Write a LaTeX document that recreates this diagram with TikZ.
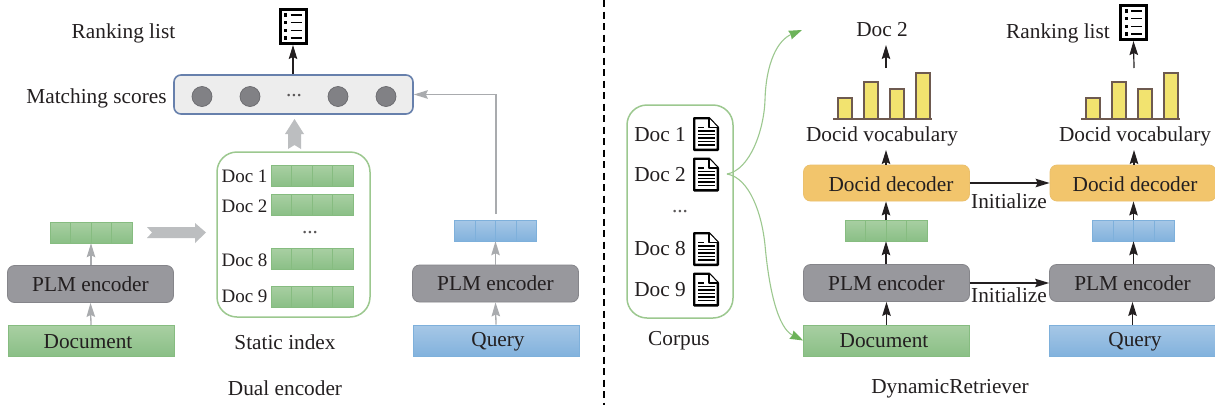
\documentclass[tikz,border=0pt]{standalone}
\usepackage{fontspec}
\setmainfont{Liberation Serif}
\usetikzlibrary{arrows.meta,calc}
\definecolor{txt}{HTML}{231F20}
\definecolor{grnT}{HTML}{A8CFA2}
\definecolor{grnB}{HTML}{8ABF86}
\definecolor{grnE}{HTML}{86BC80}
\definecolor{bluT}{HTML}{A6C7E6}
\definecolor{bluB}{HTML}{82B2DD}
\definecolor{bluE}{HTML}{7EB0DB}
\definecolor{plm}{HTML}{98989D}
\definecolor{plmE}{HTML}{85858A}
\definecolor{dec}{HTML}{F2C56C}
\definecolor{decE}{HTML}{EBC06C}
\definecolor{arrg}{HTML}{A9ABAE}
\definecolor{blk}{HTML}{BCBEC0}
\definecolor{crv}{HTML}{9CC88F}
\definecolor{crvH}{HTML}{6DB35A}
\definecolor{bar}{HTML}{F2E36F}
\definecolor{barE}{HTML}{6E5A50}
\definecolor{frameB}{HTML}{6780AC}
\tikzset{
  lbl/.style={inner sep=0pt,text=txt,font=\fontsize{21.3}{23}\selectfont},
  smalllbl/.style={inner sep=0pt,text=txt,font=\fontsize{19}{21}\selectfont},
  box/.style={rectangle,inner sep=0pt,anchor=center,text=txt,font=\fontsize{21.3}{23}\selectfont},
  grnbox/.style={box,draw=grnE,line width=.6pt,top color=grnT,bottom color=grnB,minimum width=166pt,minimum height=31pt},
  blubox/.style={box,draw=bluE,line width=.6pt,top color=bluT,bottom color=bluB,minimum width=166pt,minimum height=31pt},
  plmbox/.style={box,draw=plmE,line width=.8pt,fill=plm,rounded corners=7pt,minimum width=166pt,minimum height=37pt},
  decbox/.style={box,draw=decE,line width=.8pt,fill=dec,rounded corners=7pt,minimum width=166pt,minimum height=36pt},
  greenframe/.style={rectangle,draw=crv,line width=1.5pt,rounded corners=20pt,fill=white,inner sep=0pt},
  circ/.style={circle,draw=plmE!80!black,line width=.7pt,fill=plm!85!black,minimum size=20pt,inner sep=0pt},
  garrow/.style={draw=arrg,line width=1.3pt,-{Stealth[length=14pt,width=8.5pt,inset=2pt]}},
  karrow/.style={draw=txt,line width=1.2pt,-{Stealth[length=14pt,width=8.5pt,inset=2pt]}},
  curve/.style={draw=crv,line width=1.1pt},
}
% vector: name, centre, top colour, bottom colour, edge colour
\newcommand\vecbar[5]{%
  \node[rectangle,inner sep=0pt,minimum width=82pt,minimum height=21pt,top color=#3,bottom color=#4,draw=#5,line width=.5pt] (#1) at (#2) {};
  \foreach \k in {-20.5,0,20.5}{\draw[#5,line width=.6pt] ($(#1.center)+(\k,-10.5)$) -- ($(#1.center)+(\k,10.5)$);}
}
% ranking-list icon: name, centre
\newcommand\ranklist[2]{%
  \node[rectangle,inner sep=0pt,minimum width=26pt,minimum height=34pt,draw=black,line width=3pt,fill=white] (#1) at (#2) {};
  \foreach \yy in {-11.5,-4,4,11.5}{
    \fill[black] ($(#1.center)+(-9,\yy-1.7)$) rectangle ++(3.4,3.4);
    \draw[black,line width=1.5pt] ($(#1.center)+(-2.5,\yy)$) -- ++(11,0);
  }
}
% document icon: name, centre
\newcommand\docicon[2]{%
  \node[inner sep=0pt,minimum width=26pt,minimum height=34pt] (#1) at (#2) {};
  \begin{scope}[shift={(#1.center)}]
    \draw[black,line width=2.4pt,line join=round,fill=white] (-11.8,-15.8) -- (3,-15.8) -- (11.8,-6.5) -- (11.8,15.8) -- (-11.8,15.8) -- cycle;
    \draw[black,line width=1.2pt,fill=white,line join=round] (3,-15.8) -- (3,-6.5) -- (11.8,-6.5);
    \draw[black,line width=1.4pt] (-8,-6.5) -- (-2.5,-6.5);
    \foreach \yy in {-3,0.5,4,7.5,11}{\draw[black,line width=1.6pt] (-8,\yy) -- (8.5,\yy);}
  \end{scope}
}
% bar chart: name, baseline-left x
\newcommand\barchart[2]{%
  \coordinate (#1) at (#2,119);
  \begin{scope}[shift={(#1)}]
    \foreach \xa/\tp in {5/-21,31/-37,57/-30,83/-46}{
      \draw[barE,line width=1.6pt,fill=bar] (\xa,0) rectangle ++(14,\tp);
    }
    \draw[barE,line width=1.2pt] (0,0) -- (99,0);
  \end{scope}
}
\begin{document}
\begin{tikzpicture}[x=1pt,y=-1pt]
\useasboundingbox (0,0) rectangle (1215,405);
\fill[white] (0,0) rectangle (1215,405);

% ---- divider
\coordinate (divT) at (604,0);
\coordinate (divB) at (604,405);
\draw[black,line width=1.8pt,dash pattern=on 7pt off 4.5pt] (divT) -- (divB);

% ---- LEFT PANEL
\node[lbl] (rl1) at (123.5,33) {Ranking list};
\ranklist{ic1}{293,26.5}
\node[lbl] (ms) at (96.5,98) {Matching scores};
\node[rectangle,draw=frameB,line width=1.6pt,rounded corners=7pt,fill=black!7,minimum width=239pt,minimum height=39pt,inner sep=0pt] (mbox) at (293.5,94.5) {};
\node[circ] (c1) at (202,96.5) {};
\node[circ] (c2) at (250,96.5) {};
\node[lbl,text=txt!75] (mdots) at (294,96) {...};
\node[circ] (c3) at (338,96.5) {};
\node[circ] (c4) at (386,96.5) {};
\draw[karrow] (mbox.north -| ic1.south) -- (ic1.south);

\node[greenframe,minimum width=153pt,minimum height=165pt] (sidx) at (293.5,234.5) {};
\node[smalllbl] (d1) at (244.5,176) {Doc 1};
\node[smalllbl] (d2) at (244.5,206) {Doc 2};
\node[smalllbl] (d8) at (244.5,260) {Doc 8};
\node[smalllbl] (d9) at (244.5,296) {Doc 9};
\node[lbl,text=txt!75] (sdots) at (310,233) {...};
\vecbar{sv1}{312,176}{grnT}{grnB}{grnE}
\vecbar{sv2}{312,205}{grnT}{grnB}{grnE}
\vecbar{sv8}{312,259}{grnT}{grnB}{grnE}
\vecbar{sv9}{312,296.5}{grnT}{grnB}{grnE}
\node[lbl] (sidxl) at (285,342) {Static index};
\node[lbl] (dual) at (285,388) {Dual encoder};

\fill[blk] (288,149) -- (288,134) -- (285,134) -- (294.5,119) -- (304,134) -- (301,134) -- (301,149) -- (294.5,145) -- cycle;
\fill[blk] (147,227) -- (195,227) -- (195,223) -- (206,232.5) -- (195,243) -- (195,238) -- (147,238) -- (152,232.5) -- cycle;

\vecbar{lv}{91,232.5}{grnT}{grnB}{grnE}
\node[plmbox] (lp) at (90.5,284) {PLM encoder};
\node[grnbox] (ld) at (91,341) {};
\node[lbl] at (88,341.5) {Document};
\draw[garrow] (lp.north -| lv.south) -- (lv.south);
\draw[garrow] (ld.north) -- (lp.south);

\vecbar{qv}{495.5,230.5}{bluT}{bluB}{bluE}
\node[plmbox] (qp) at (495.5,283.5) {PLM encoder};
\node[blubox] (qd) at (496,340.5) {};
\node[lbl] at (498,342) {Query};
\draw[garrow] (qp.north) -- (qv.south);
\draw[garrow] (qd.north) -- (qp.south);
\coordinate (qvtop) at (496,214);
\draw[garrow] (qvtop) -- (496,94.5) -- (mbox.east);

% ---- RIGHT PANEL
\node[greenframe,minimum width=106pt,minimum height=213pt] (corp) at (680,211.5) {};
\node[lbl] (c1l) at (660,135) {Doc 1};
\node[lbl] (c2l) at (660,175) {Doc 2};
\node[lbl] (c8l) at (660,249) {Doc 8};
\node[lbl] (c9l) at (660,290) {Doc 9};
\node[lbl,text=txt!75] (cdots) at (680,212) {...};
\docicon{p1}{706,134}
\docicon{p2}{706,174.5}
\docicon{p8}{706,249}
\docicon{p9}{706,289.5}
\node[lbl] (corpl) at (679,341) {Corpus};

\node[lbl] (doc2) at (882,29.5) {Doc 2};
\barchart{b1}{833}
\node[lbl] (voc1) at (882,136) {Docid vocabulary};
\node[decbox] (dc1) at (886.5,183) {};
\node[lbl] at (891,184) {Docid decoder};
\vecbar{dv1}{886,230.5}{grnT}{grnB}{grnE}
\node[plmbox] (dp1) at (886.5,283) {PLM encoder};
\node[grnbox] (dd1) at (886.5,340.5) {};
\node[lbl] at (884,341) {Document};
\node[lbl] (dyn) at (950,389) {DynamicRetriever};

\node[lbl] (rl2) at (1058,33) {Ranking list};
\ranklist{ic2}{1133.5,22.5}
\barchart{b2}{1081}
\node[lbl] (voc2) at (1135,136) {Docid vocabulary};
\node[decbox] (dc2) at (1133,183) {};
\node[lbl] at (1135,184) {Docid decoder};
\vecbar{dv2}{1133.5,230.5}{bluT}{bluB}{bluE}
\node[plmbox] (dp2) at (1132.5,283) {PLM encoder};
\node[blubox] (dd2) at (1132.5,340.5) {};
\node[lbl] at (1135,342) {Query};

\coordinate (a1s) at (886,68);
\coordinate (a1e) at (886,45);
\draw[karrow] (a1s) -- (a1e);
\coordinate (a2s) at (1134,68);
\draw[karrow] (a2s) -- (ic2.south);
\coordinate (v1b) at (886,150);
\coordinate (v2b) at (1134,150);
\draw[karrow] (dc1.north -| v1b) -- (v1b);
\draw[karrow] (dc2.north -| v2b) -- (v2b);
\draw[karrow] (dv1.north) -- (dc1.south -| dv1.north);
\draw[karrow] (dp1.north -| dv1.south) -- (dv1.south);
\draw[karrow] (dd1.north -| dp1.south) -- (dp1.south);
\draw[karrow] (dv2.north) -- (dc2.south -| dv2.north);
\draw[karrow] (dp2.north -| dv2.south) -- (dv2.south);
\draw[karrow] (dd2.north -| dp2.south) -- (dp2.south);
\draw[karrow] (dc1.east) -- (dc2.west);
\draw[karrow] (dp1.east) -- (dp2.west);
\node[lbl] (ini1) at (1009,201) {Initialize};
\node[lbl] (ini2) at (1009,295) {Initialize};

% ---- green curves
\coordinate (cs) at (727,174);
\coordinate (ct) at (802,30);
\draw[curve,-{Stealth[length=13pt,width=9pt,inset=1pt,color=crvH]}] (cs) .. controls (750,170) and (764,130) .. (765,100) .. controls (766,62) and (778,40) .. (ct);
\draw[curve,-{Stealth[length=13pt,width=9pt,inset=1pt,color=crvH]}] (cs) .. controls (750,178) and (762,215) .. (765,245) .. controls (769,290) and (778,328) .. (dd1.west);
\end{tikzpicture}
\end{document}
